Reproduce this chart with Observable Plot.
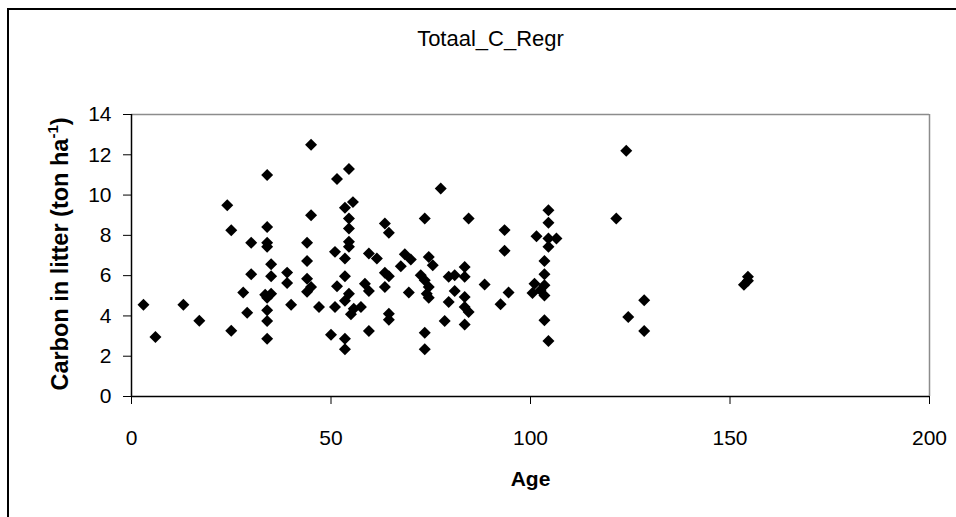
<!DOCTYPE html>
<html><head><meta charset="utf-8">
<script src="https://cdn.jsdelivr.net/npm/d3@7"></script>
<script src="https://cdn.jsdelivr.net/npm/@observablehq/plot@0.6"></script>
<style>html,body{margin:0;padding:0;background:#fff}svg{display:block}</style>
</head><body><div id="chart"></div>
<script>
const title = "Totaal_C_Regr";
const xLabel = "Age";
const yLabel = "Carbon in litter (ton ha";
const yLabelSup = "-1";
const yLabelEnd = ")";
const xTicks = [0, 50, 100, 150, 200];
const yTicks = [0, 2, 4, 6, 8, 10, 12, 14];

const ages = [
  3, 6, 13, 17, 24, 25, 25, 28, 29, 30, 30,
  34, 34, 34, 34, 35, 35, 33.5, 35, 34, 34, 34, 34,
  39, 39, 40, 44, 44, 44, 45, 44, 45, 45, 47, 50,
  51.5, 54.5, 55.5, 53.5, 54.5, 54.5, 54.5, 54.5, 51, 53.5, 53.5, 51.5, 51,
  54.5, 53.5, 55.7, 55, 57.5, 53.5, 53.5,
  59.5, 61.5, 58.5, 59.5, 59.5,
  63.5, 64.5, 63.5, 64.5, 63.5, 64.5, 64.5,
  68.5, 70, 67.5, 69.5,
  73.5, 77.5, 74.5, 75.5, 72.5, 73.5, 74.5, 74, 74.5, 73.5, 73.5,
  79.5, 81, 83.5, 83.5, 81, 79.5, 83.5, 83.5, 84.5, 78.5, 83.5, 84.5,
  88.5, 93.5, 93.5, 94.5, 92.5,
  101.5, 104.5, 104.5, 104.5, 106.5, 104.5, 103.5, 103.5, 101, 103.5, 100.5, 102.5, 103.5, 103.5, 104.5,
  124, 121.5, 128.5, 124.5, 128.5,
  154.5, 153.5, 154.5
];
const carbon = [
  4.55, 2.95, 4.56, 3.76, 9.5, 8.25, 3.27, 5.16, 4.16, 7.63, 6.07,
  11.0, 8.42, 7.63, 7.43, 6.57, 5.97, 5.05, 5.1, 4.9, 4.28, 3.75, 2.87,
  6.15, 5.64, 4.56, 7.63, 6.73, 5.85, 5.44, 5.2, 12.5, 9.0, 4.44, 3.07,
  10.8, 11.3, 9.65, 9.37, 8.84, 8.34, 7.68, 7.43, 7.18, 6.85, 5.97, 5.47, 4.44,
  5.1, 4.75, 4.36, 4.08, 4.44, 2.87, 2.35,
  7.1, 6.85, 5.6, 5.24, 3.25,
  8.59, 8.13, 6.14, 5.97, 5.44, 4.11, 3.81,
  7.06, 6.8, 6.47, 5.16,
  8.84, 10.33, 6.93, 6.52, 6.02, 5.77, 5.44, 5.1, 4.9, 3.17, 2.35,
  5.94, 6.02, 6.43, 5.94, 5.24, 4.69, 4.94, 4.44, 4.2, 3.75, 3.57, 8.84,
  5.56, 8.26, 7.23, 5.16, 4.58,
  7.96, 9.25, 8.62, 7.84, 7.84, 7.43, 6.73, 6.07, 5.6, 5.52, 5.14, 5.27, 5.02, 3.78, 2.75,
  12.2, 8.84, 4.78, 3.95, 3.25,
  5.94, 5.55, 5.75
];

const data = ages.map((a, i) => ({age: a, carbon: carbon[i]}));
const font = "'Liberation Sans', Arial, sans-serif";

const chart = Plot.plot({
  width: 956,
  height: 517,
  marginLeft: 131,
  marginRight: 27,
  marginTop: 114,
  marginBottom: 121,
  style: {fontFamily: font, fontSize: "21px", background: "#fff", color: "#000", overflow: "visible"},
  x: {domain: [0, 200], label: null},
  y: {domain: [0, 14], label: null},
  marks: [
    Plot.ruleY([14], {stroke: "#8c8c8c", strokeWidth: 1.5}),
    Plot.ruleX([200], {stroke: "#8c8c8c", strokeWidth: 1.5}),
    Plot.axisX({ticks: xTicks, tickSize: 8, tickPadding: 26, fontSize: 21, stroke: "#000", label: null}),
    Plot.axisY({ticks: yTicks, tickSize: 8, tickPadding: 12, fontSize: 21, stroke: "#000", label: null}),
    Plot.ruleY([0], {stroke: "#000", strokeWidth: 1.5}),
    Plot.ruleX([0], {stroke: "#000", strokeWidth: 1.5}),
    Plot.dot(data, {x: "age", y: "carbon", symbol: "diamond2", r: 5.4, fill: "#000", stroke: "none"}),
    Plot.text([title], {frameAnchor: "top", dx: -40, dy: -84, fontSize: 22, fill: "#000"}),
    Plot.text([xLabel], {frameAnchor: "bottom", dy: 89, fontSize: 21, fontWeight: "bold", fill: "#000"})
  ]
});

const svg = d3.select(chart);
// outer chart border
svg.append("rect")
  .attr("x", 8).attr("y", 9).attr("width", 1000).attr("height", 1000)
  .attr("fill", "none").attr("stroke", "#000").attr("stroke-width", 2);
// y axis title with superscript
const yl = svg.append("text")
  .attr("transform", "translate(68,254) rotate(-90)")
  .attr("text-anchor", "middle")
  .attr("font-family", font)
  .attr("font-size", 23.5)
  .attr("font-weight", "bold")
  .attr("fill", "#000");
yl.append("tspan").text(yLabel);
yl.append("tspan").attr("font-size", 15).attr("dy", -10).text(yLabelSup);
yl.append("tspan").attr("dy", 10).text(yLabelEnd);

document.getElementById("chart").appendChild(chart);
</script>
</body></html>
